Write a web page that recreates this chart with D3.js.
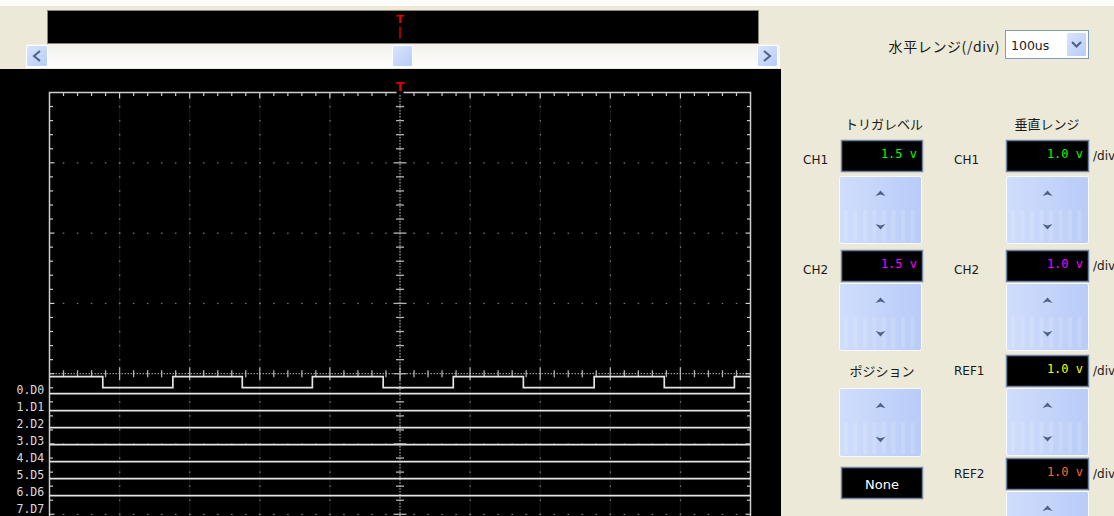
<!DOCTYPE html>
<html>
<head>
<meta charset="utf-8">
<script src="https://cdn.jsdelivr.net/npm/d3@7"></script>
<style>
  html, body { margin: 0; padding: 0; background: #ece9d8; overflow: hidden; }
  svg { display: block; }
  .ui { font-family: Tahoma, "DejaVu Sans", "Noto Sans", sans-serif; font-size: 12px; fill: #1a1a1a; }
  .jp { font-family: "Noto Sans CJK JP", sans-serif; font-size: 13px; fill: #1a1a1a; }
</style>
</head>
<body>
<script>
// ---- scope settings and captured data ----
const timeDomain = [0, 1000];          // µs across 10 divisions (100 µs/div)
const voltDomain = [4, -4];            // volts, 8 divisions (1.0 V/div)
const channelLabels = ["0.D0", "1.D1", "2.D2", "3.D3", "4.D4", "5.D5", "6.D6", "7.D7"];
const d0StartLevel = 1;
const d0Edges = [76, 176, 275, 375, 476, 576, 676, 777, 877, 977];   // µs, D0 toggles
const staticLevels = [1, 1, 1, 1, 1, 1, 1];                          // D1..D7
const triggerTime = 500;               // µs

// ---- control panel values ----
const horizontalRange = "100us";
const triggerChannels = ["CH1", "CH2"];
const triggerLevels = [1.5, 1.5];
const rangeChannels = ["CH1", "CH2", "REF1", "REF2"];
const rangeValues = [1.0, 1.0, 1.0, 1.0];
const positionValue = "None";
const channelColors = { CH1: "#00ff00", CH2: "#ff00ff", REF1: "#ffff00", REF2: "#ff6a30" };

const W = 1114, H = 516;
const svg = d3.select("body").append("svg").attr("width", W).attr("height", H);

// ---- scales ----
const x = d3.scaleLinear().domain(timeDomain).range([49.5, 750.5]);
const y = d3.scaleLinear().domain(voltDomain).range([92.5, 654.9]);
const chanY = d3.scaleLinear().domain([0, 7]).range([376.7, 495.7]);   // high level row per channel
const levelOff = d3.scaleLinear().domain([0, 1]).range([11, 0]);

const majorT = d3.range(0, 1001, 100);
const minorT = d3.range(0, 51).map(k => k * 20);
const majorV = d3.range(-4, 5);
const minorV = d3.range(-20, 21).map(k => k / 5);

// ---- window background ----
svg.append("rect").attr("width", W).attr("height", H).attr("fill", "#ece9d8");
svg.append("rect").attr("width", W).attr("height", 6).attr("fill", "#fcfcfb");

const defs = svg.append("defs");
const tg = defs.append("linearGradient").attr("id", "track").attr("x1", 0).attr("x2", 0).attr("y1", 0).attr("y2", 1);
tg.append("stop").attr("offset", 0).attr("stop-color", "#f1f0ea");
tg.append("stop").attr("offset", 1).attr("stop-color", "#fefefe");
const bg = defs.append("linearGradient").attr("id", "btn").attr("x1", 0).attr("x2", 1).attr("y1", 0).attr("y2", 1);
bg.append("stop").attr("offset", 0).attr("stop-color", "#dae5fd");
bg.append("stop").attr("offset", 1).attr("stop-color", "#b6cbf7");
const sg = defs.append("linearGradient").attr("id", "spin").attr("x1", 0).attr("x2", 1).attr("y1", 0).attr("y2", 0);
sg.append("stop").attr("offset", 0).attr("stop-color", "#d0ddfc");
sg.append("stop").attr("offset", 1).attr("stop-color", "#b8ccf8");

function smallButton(g, bx, by, bw, bh) {
  g.append("rect").attr("x", bx + 0.5).attr("y", by + 0.5).attr("width", bw - 1).attr("height", bh - 1)
    .attr("rx", 2).attr("fill", "url(#btn)").attr("stroke", "#ffffff");
}

// ---- overview strip and scrollbar ----
const overview = svg.append("g");
overview.append("rect").attr("x", 47.5).attr("y", 10.5).attr("width", 711).attr("height", 33)
  .attr("fill", "#000").attr("stroke", "#8a8778");
overview.append("text").attr("x", x(triggerTime)).attr("y", 23).attr("text-anchor", "middle")
  .attr("fill", "#e00000").style("font", "bold 11px 'DejaVu Sans', sans-serif").text("T");
overview.append("line").attr("x1", x(triggerTime)).attr("x2", x(triggerTime)).attr("y1", 26.5).attr("y2", 38.5)
  .attr("stroke", "#d00000").attr("stroke-width", 1.5);

overview.append("rect").attr("x", 26).attr("y", 44).attr("width", 754).attr("height", 24).attr("fill", "url(#track)");
smallButton(overview, 26, 45, 22, 22);
overview.append("path").attr("d", "M40,51 L34,56 L40,61").attr("fill", "none").attr("stroke", "#4d6185").attr("stroke-width", 2);
smallButton(overview, 757, 45, 21, 22);
overview.append("path").attr("d", "M764,51 L770,56 L764,61").attr("fill", "none").attr("stroke", "#4d6185").attr("stroke-width", 2);
smallButton(overview, 392, 45, 21, 22);

// ---- scope screen ----
const scope = svg.append("g");
scope.append("rect").attr("x", 0).attr("y", 69).attr("width", 781).attr("height", H - 69).attr("fill", "#000");

// faint major columns
scope.selectAll(".col").data(majorT.slice(1, -1)).join("line")
  .attr("x1", d => x(d)).attr("x2", d => x(d)).attr("y1", y(4)).attr("y2", H)
  .attr("stroke", "#111111").attr("stroke-width", 1.5);

// dotted graticule: dots at each minor step along every major line
const dotColor = "#7a7a7a";
majorT.slice(1, -1).filter(t => t !== triggerTime).forEach(t => {
  scope.selectAll(null).data(minorV.filter(v => v < 4 && v > -4)).join("rect")
    .attr("x", x(t) - 0.5).attr("y", d => y(d) - 0.7).attr("width", 1.2).attr("height", 1.5).attr("fill", dotColor);
});
majorV.slice(1, -1).filter(v => v !== 0).forEach(v => {
  scope.selectAll(null).data(minorT.filter(t => t > 0 && t < 1000)).join("rect")
    .attr("x", d => x(d) - 0.7).attr("y", y(v) - 0.5).attr("width", 1.5).attr("height", 1.2).attr("fill", dotColor);
});

// centre axes: fine dotted line with tick marks
const axisColor = "#b4b4b4";
scope.append("line").attr("x1", x(0)).attr("x2", x(1000)).attr("y1", y(0)).attr("y2", y(0))
  .attr("stroke", axisColor).attr("stroke-dasharray", "1.5,1.5");
scope.selectAll(".hx").data(minorT.filter(t => t > 0 && t < 1000)).join("line")
  .attr("x1", d => x(d)).attr("x2", d => x(d))
  .attr("y1", d => y(0) - (d % 100 === 0 ? 6.5 : 3.5)).attr("y2", d => y(0) + (d % 100 === 0 ? 6.5 : 3.5))
  .attr("stroke", axisColor).attr("stroke-width", 1.3);
scope.append("line").attr("x1", x(triggerTime)).attr("x2", x(triggerTime)).attr("y1", 95).attr("y2", H)
  .attr("stroke", axisColor).attr("stroke-dasharray", "1.5,1.5");
scope.selectAll(".vy").data(minorV.filter(v => v > -4 && v < 4)).join("line")
  .attr("x1", d => x(triggerTime) - (Number.isInteger(d) ? 6.5 : 4)).attr("x2", d => x(triggerTime) + (Number.isInteger(d) ? 6.5 : 4))
  .attr("y1", d => y(d)).attr("y2", d => y(d))
  .attr("stroke", axisColor).attr("stroke-width", 1.3);

// frame and edge ticks
const frameColor = "#cdcdcd";
const frame = scope.append("g").attr("stroke", frameColor).attr("stroke-width", 1.5).attr("fill", "none");
frame.append("path").attr("d", `M${x(0)},${y(-4)} V${y(4)} H${x(triggerTime) - 3.5}`);
frame.append("path").attr("d", `M${x(triggerTime) + 3.5},${y(4)} H${x(1000)} V${y(-4)}`);
frame.selectAll(".tt").data(minorT.filter(t => t > 0 && t < 1000 && t !== triggerTime)).join("line")
  .attr("x1", d => x(d)).attr("x2", d => x(d)).attr("y1", y(4))
  .attr("y2", d => y(4) + (d % 100 === 0 ? 6 : 3.5)).attr("stroke-width", 1.2);
frame.selectAll(".lt").data(minorV.filter(v => v > -4 && v < 4)).join("line")
  .attr("x1", x(0)).attr("x2", d => x(0) + (Number.isInteger(d) ? 5 : 3.5))
  .attr("y1", d => y(d)).attr("y2", d => y(d)).attr("stroke-width", 1.2);
frame.selectAll(".rt").data(minorV.filter(v => v > -4 && v < 4)).join("line")
  .attr("x1", x(1000)).attr("x2", d => x(1000) - (Number.isInteger(d) ? 5 : 3.5))
  .attr("y1", d => y(d)).attr("y2", d => y(d)).attr("stroke-width", 1.2);

scope.append("text").attr("x", x(triggerTime)).attr("y", 91).attr("text-anchor", "middle")
  .attr("fill", "#e00000").style("font", "bold 12px 'DejaVu Sans', sans-serif").text("T");

// ---- logic channels ----
const traceColor = "#e4e4e4";
const stepLine = d3.line().curve(d3.curveStepAfter).x(d => x(d[0])).y(d => d[1]);
const d0Points = [[timeDomain[0], d0StartLevel]];
let lvl = d0StartLevel;
d0Edges.forEach(t => { lvl = 1 - lvl; d0Points.push([t, lvl]); });
d0Points.push([timeDomain[1], lvl]);
scope.append("path")
  .attr("d", stepLine(d0Points.map(p => [p[0], chanY(0) + levelOff(p[1])])))
  .attr("fill", "none").attr("stroke", traceColor).attr("stroke-width", 1.7);
staticLevels.forEach((l, i) => {
  const ch = i + 1;
  scope.append("path")
    .attr("d", stepLine([[timeDomain[0], chanY(ch) + levelOff(l)], [timeDomain[1], chanY(ch) + levelOff(l)]]))
    .attr("fill", "none").attr("stroke", traceColor).attr("stroke-width", 1.7);
});
scope.selectAll(".chl").data(channelLabels).join("text")
  .attr("x", 16.5).attr("y", (d, i) => chanY(i) + levelOff(0) + 6.5)
  .attr("fill", "#dcdcdc").style("font", "11.5px 'DejaVu Sans Mono', monospace").text(d => d);

// ---- control panel ----
const panel = svg.append("g");
function label(text, lx, ly, anchor, cls) {
  return panel.append("text").attr("class", cls || "ui").attr("x", lx).attr("y", ly)
    .attr("text-anchor", anchor || "start").attr("dominant-baseline", "central").text(text);
}
function valueBox(bx, by, bw, bh, text, color, centered) {
  panel.append("rect").attr("x", bx + 0.5).attr("y", by + 0.5).attr("width", bw - 1).attr("height", bh - 1)
    .attr("fill", "#000").attr("stroke", "#6d83a3").attr("stroke-width", 1.5);
  panel.append("text").attr("x", centered ? bx + bw / 2 : bx + bw - 6).attr("y", centered ? by + bh / 2 + 1 : by + 14)
    .attr("text-anchor", centered ? "middle" : "end").attr("dominant-baseline", "central")
    .attr("fill", color).style("font", centered ? "13px 'DejaVu Sans', sans-serif" : "12px 'DejaVu Sans Mono', monospace")
    .text(text);
}
function spinner(sx, sy, sw, sh) {
  const g = panel.append("g");
  g.append("rect").attr("x", sx + 0.5).attr("y", sy + 0.5).attr("width", sw - 1).attr("height", sh - 1)
    .attr("rx", 2).attr("fill", "url(#spin)").attr("stroke", "#f7f9ff");
  const cols = d3.range(0, 8);
  g.selectAll("rect.s").data(cols).join("rect")
    .attr("x", d => sx + 5 + d * 9.5).attr("y", sy + sh / 2).attr("width", 4).attr("height", sh / 2 - 3)
    .attr("fill", "#ffffff").attr("opacity", 0.14);
  const cx = sx + sw / 2, uy = sy + sh * 0.25, dy = sy + sh * 0.75;
  g.append("path").attr("d", `M${cx - 5},${uy + 3} L${cx},${uy - 2.5} L${cx + 5},${uy + 3} L${cx},${uy + 1.5} Z`)
    .attr("fill", "#4d6185");
  g.append("path").attr("d", `M${cx - 5},${dy - 3} L${cx},${dy + 2.5} L${cx + 5},${dy - 3} L${cx},${dy - 1.5} Z`)
    .attr("fill", "#4d6185");
}

// horizontal range selector
label("水平レンジ(/div)", 1000, 46, "end", "jp").style("font-size", "14px").style("letter-spacing", "0.6px");
panel.append("rect").attr("x", 1005.5).attr("y", 30.5).attr("width", 83).attr("height", 28)
  .attr("fill", "#fff").attr("stroke", "#7f9db9");
label(horizontalRange, 1011, 45, "start").style("font-size", "12.5px");
smallButton(panel, 1066, 32, 21, 25);
panel.append("path").attr("d", "M1072,42 L1076.5,46.5 L1081,42").attr("fill", "none").attr("stroke", "#4d6185").attr("stroke-width", 2);

// trigger level column
label("トリガレベル", 884, 123, "middle", "jp");
const trigBoxY = [140, 250];
const trigSpinY = [176, 283];
triggerChannels.forEach((ch, i) => {
  label(ch, 803, trigBoxY[i] + 20, "start");
  valueBox(841, trigBoxY[i], 82, 32, triggerLevels[i].toFixed(1) + " v", channelColors[ch]);
  spinner(839, trigSpinY[i], 83, 68);
});
label("ポジション", 882, 370, "middle", "jp");
spinner(839, 388, 83, 69);
valueBox(841, 467, 82, 32, positionValue, "#ffffff", true);

// vertical range column
label("垂直レンジ", 1047, 123, "middle", "jp");
const rangeBoxY = [140, 250, 355, 458];
const rangeSpinY = [176, 283, 388, 491];
rangeChannels.forEach((ch, i) => {
  label(ch, 954, rangeBoxY[i] + (i < 2 ? 20 : 16), "start");
  valueBox(1006, rangeBoxY[i], 83, 32, rangeValues[i].toFixed(1) + " v", channelColors[ch]);
  label("/div", 1093, rangeBoxY[i] + 16, "start");
  spinner(1006, rangeSpinY[i], 83, 68);
});
</script>
</body>
</html>
